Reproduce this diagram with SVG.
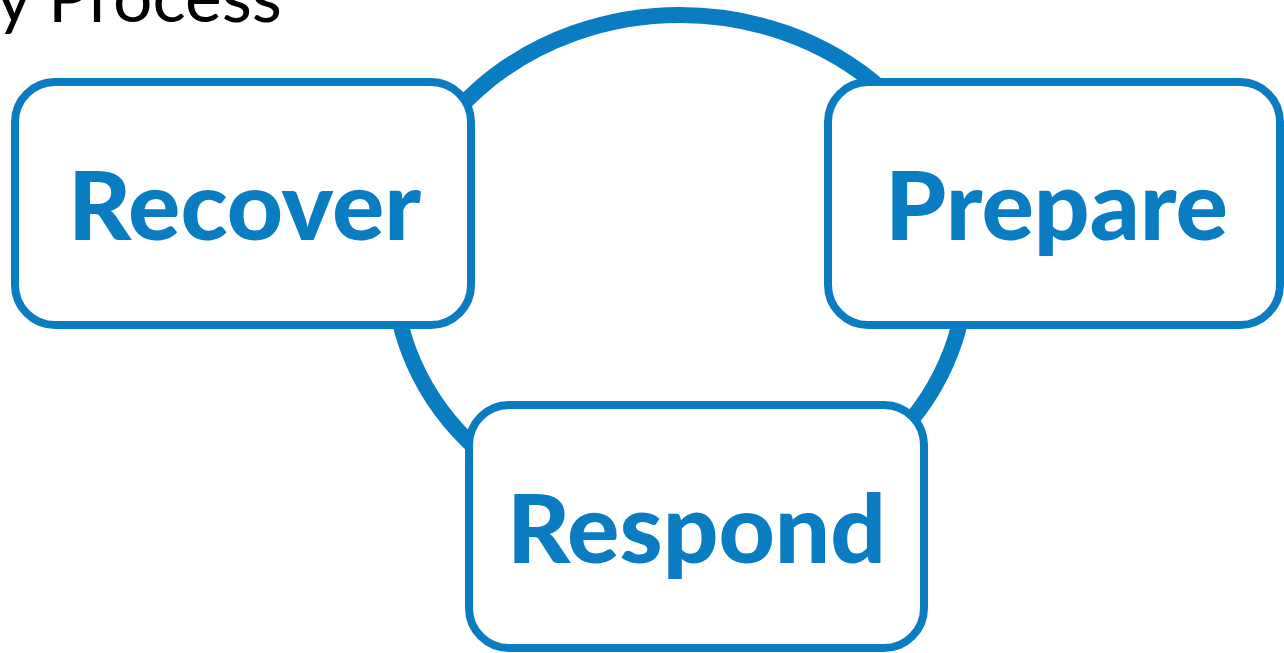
<svg xmlns="http://www.w3.org/2000/svg" width="1284" height="653" viewBox="0 0 1284 653">
<style>
.box{fill:#ffffff;stroke:#0a7cc1;stroke-width:8}
.lbl{font-family:Lato,"Open Sans","Liberation Sans",sans-serif;font-weight:900;font-size:96px;fill:#0a7cc1}
.title{font-family:Lato,"Open Sans","Liberation Sans",sans-serif;font-size:70px;fill:#000000}
</style>
<rect width="1284" height="653" fill="#ffffff"/>
<text class="title" x="-4" y="22" textLength="286" lengthAdjust="spacingAndGlyphs">y Process</text>
<g id="connectors">
<ellipse cx="680" cy="270" rx="286" ry="255" fill="none" stroke="#0a7cc1" stroke-width="16"/>
</g>
<g id="recover">
<rect class="box" x="15" y="82" width="456" height="243" rx="40" ry="40"/>
<text class="lbl" x="68" y="240" textLength="353" lengthAdjust="spacingAndGlyphs">Recover</text>
</g>
<g id="prepare">
<rect class="box" x="828" y="82" width="452" height="243" rx="40" ry="40"/>
<text class="lbl" x="885" y="240" textLength="343" lengthAdjust="spacingAndGlyphs">Prepare</text>
</g>
<g id="respond">
<rect class="box" x="469" y="405" width="455" height="243" rx="40" ry="40"/>
<text class="lbl" x="507" y="563" textLength="379" lengthAdjust="spacingAndGlyphs">Respond</text>
</g>
</svg>
